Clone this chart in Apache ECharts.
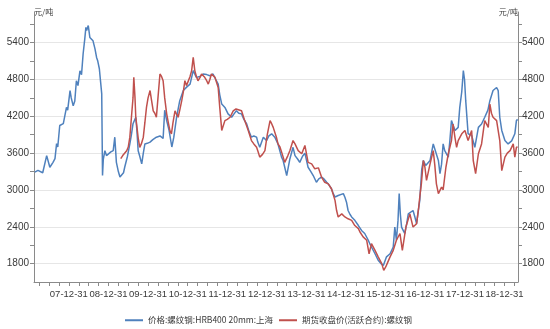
<!DOCTYPE html>
<html>
<head>
<meta charset="utf-8">
<script src="https://cdn.jsdelivr.net/npm/echarts@6/dist/echarts.min.js"></script>
<style>
  html, body { margin: 0; padding: 0; background: #ffffff; }
  #chart { width: 550px; height: 329px; }
</style>
</head>
<body>
<div id="chart"></div>
<script>
// Series names shown in the legend
const spotName = '价格:螺纹钢:HRB400 20mm:上海';
const futName = '期货收盘价(活跃合约):螺纹钢';
const unitName = '元/吨';

// Year-end tick positions (decimal years) and their labels
const yearEnds = [2008, 2009, 2010, 2011, 2012, 2013, 2014, 2015, 2016, 2017, 2018, 2019];
const xTickLabels = ['07-12-31', '08-12-31', '09-12-31', '10-12-31', '11-12-31', '12-12-31',
                     '13-12-31', '14-12-31', '15-12-31', '16-12-31', '17-12-31', '18-12-31'];

// Price axis labels
const yTickLabels = [1800, 2400, 3000, 3600, 4200, 4800, 5400];

// Spot price, Shanghai HRB400 20mm rebar (time in decimal years, price in yuan/ton)
const spotTime = [
  2007.14, 2007.22, 2007.27, 2007.34, 2007.44, 2007.52, 2007.60, 2007.65, 2007.69, 2007.72,
  2007.77, 2007.86, 2007.90, 2007.94, 2007.97, 2008.03, 2008.06, 2008.11, 2008.15, 2008.19,
  2008.23, 2008.28, 2008.32, 2008.36, 2008.40, 2008.43, 2008.45, 2008.49, 2008.53, 2008.57,
  2008.61, 2008.66, 2008.70, 2008.73, 2008.77, 2008.83, 2008.85, 2008.87, 2008.91, 2008.95,
  2008.99, 2009.06, 2009.12, 2009.16, 2009.20, 2009.25, 2009.29, 2009.33, 2009.38, 2009.41,
  2009.48, 2009.54, 2009.58, 2009.62, 2009.69, 2009.72, 2009.75, 2009.79, 2009.84, 2009.88,
  2009.92, 2009.98, 2010.05, 2010.12, 2010.21, 2010.30, 2010.38, 2010.42, 2010.47, 2010.53,
  2010.60, 2010.65, 2010.72, 2010.80, 2010.89, 2010.98, 2011.06, 2011.14, 2011.22, 2011.31,
  2011.39, 2011.48, 2011.56, 2011.64, 2011.71, 2011.77, 2011.81, 2011.86, 2011.94, 2012.02,
  2012.11, 2012.17, 2012.23, 2012.29, 2012.36, 2012.42, 2012.49, 2012.55, 2012.61, 2012.67,
  2012.74, 2012.77, 2012.82, 2012.91, 2012.99, 2013.05, 2013.12, 2013.20, 2013.28, 2013.37,
  2013.41, 2013.50, 2013.58, 2013.66, 2013.71, 2013.78, 2013.83, 2013.90, 2013.96, 2014.04,
  2014.11, 2014.17, 2014.25, 2014.31, 2014.38, 2014.44, 2014.51, 2014.57, 2014.63, 2014.67,
  2014.72, 2014.80, 2014.84, 2014.93, 2014.97, 2015.01, 2015.05, 2015.10, 2015.14, 2015.22,
  2015.31, 2015.39, 2015.47, 2015.56, 2015.60, 2015.64, 2015.73, 2015.81, 2015.88, 2015.94,
  2015.98, 2016.02, 2016.11, 2016.19, 2016.23, 2016.27, 2016.31, 2016.34, 2016.37, 2016.40,
  2016.45, 2016.48, 2016.53, 2016.57, 2016.62, 2016.69, 2016.74, 2016.78, 2016.82, 2016.86,
  2016.91, 2016.95, 2017.01, 2017.12, 2017.20, 2017.24, 2017.33, 2017.37, 2017.41, 2017.45,
  2017.49, 2017.58, 2017.62, 2017.66, 2017.70, 2017.75, 2017.83, 2017.87, 2017.92, 2017.96,
  2017.99, 2018.02, 2018.08, 2018.17, 2018.25, 2018.34, 2018.42, 2018.50, 2018.58, 2018.63,
  2018.71, 2018.76, 2018.80, 2018.84, 2018.88, 2018.93, 2019.01, 2019.09, 2019.18, 2019.26,
  2019.30, 2019.33
];
const spotPrice = [
  3290, 3320, 3350, 3280, 3560, 3370, 3450, 3510, 3755, 3700,
  4050, 4080, 4050, 4345, 4300, 4620, 4500, 4370, 4450, 4780,
  4700, 4940, 4880, 5215, 5450, 5650, 5600, 5680, 5485, 5500,
  5430, 5300, 5160, 5100, 4975, 4565, 3235, 3500, 3640, 3560,
  3590, 3620, 3640, 3860, 3450, 3300, 3210, 3190, 3280, 3370,
  3550, 3750, 3900, 4080, 4185, 3950, 3640, 3550, 3425, 3600,
  3750, 3760, 3780, 3820, 3860, 3880, 3840, 4300, 4130, 3970,
  3700, 3860, 4185, 4455, 4620, 4680, 4725, 4945, 4835, 4850,
  4890, 4880, 4860, 4890, 4800, 4725, 4550, 4400, 4345, 4240,
  4185, 4240, 4290, 4250, 4240, 4150, 4075, 3950, 3860, 3880,
  3860, 3780, 3695, 3860, 3805, 3880, 3915, 3860, 3750, 3535,
  3480, 3235, 3505, 3695, 3560, 3500, 3450, 3550, 3600, 3370,
  3300, 3235, 3125, 3180, 3210, 3180, 3125, 3080, 3020, 2950,
  2885, 2910, 2885, 2940, 2880, 2800, 2665, 2600, 2560, 2505,
  2420, 2340, 2290, 2180, 2120, 2070, 1960, 1855, 1800, 1770,
  1800, 1910, 1960, 2070, 2395, 2180, 2500, 2940, 2600, 2395,
  2330, 2290, 2450, 2610, 2640, 2665, 2550, 2450, 2650, 2830,
  3335, 3480, 3400, 3480, 3750, 3780, 3480, 3265, 3420, 3750,
  3640, 3535, 3805, 4130, 4100, 3970, 4020, 4345, 4600, 4945,
  4800, 4455, 3915, 3890, 3695, 4020, 4075, 4185, 4300, 4455,
  4620, 4600, 4670, 4620, 4185, 3970, 3805, 3750, 3800, 3915,
  4130, 4150
];

// Rebar futures, active contract close (time in decimal years, price in yuan/ton)
const futTime = [
  2009.31, 2009.36, 2009.46, 2009.50, 2009.54, 2009.58, 2009.62, 2009.64, 2009.67, 2009.69,
  2009.72, 2009.75, 2009.79, 2009.83, 2009.88, 2009.92, 2009.96, 2010.00, 2010.05, 2010.09,
  2010.13, 2010.17, 2010.21, 2010.25, 2010.30, 2010.34, 2010.38, 2010.42, 2010.47, 2010.51,
  2010.55, 2010.59, 2010.63, 2010.68, 2010.72, 2010.76, 2010.80, 2010.85, 2010.89, 2010.93,
  2010.97, 2011.01, 2011.06, 2011.10, 2011.14, 2011.18, 2011.22, 2011.26, 2011.31, 2011.35,
  2011.39, 2011.43, 2011.48, 2011.52, 2011.56, 2011.60, 2011.64, 2011.69, 2011.73, 2011.77,
  2011.81, 2011.86, 2011.90, 2011.94, 2012.00, 2012.07, 2012.15, 2012.22, 2012.27, 2012.36,
  2012.44, 2012.53, 2012.61, 2012.67, 2012.74, 2012.78, 2012.82, 2012.89, 2012.95, 2013.01,
  2013.08, 2013.12, 2013.16, 2013.24, 2013.28, 2013.33, 2013.38, 2013.45, 2013.53, 2013.58,
  2013.66, 2013.71, 2013.79, 2013.88, 2013.96, 2014.04, 2014.13, 2014.21, 2014.30, 2014.38,
  2014.46, 2014.55, 2014.63, 2014.72, 2014.76, 2014.80, 2014.89, 2014.97, 2015.05, 2015.14,
  2015.22, 2015.31, 2015.35, 2015.43, 2015.52, 2015.58, 2015.64, 2015.73, 2015.81, 2015.90,
  2015.95, 2016.00, 2016.05, 2016.11, 2016.19, 2016.27, 2016.36, 2016.42, 2016.51, 2016.61,
  2016.69, 2016.78, 2016.83, 2016.86, 2016.90, 2016.95, 2016.99, 2017.03, 2017.12, 2017.20,
  2017.24, 2017.28, 2017.33, 2017.41, 2017.45, 2017.52, 2017.58, 2017.66, 2017.70, 2017.75,
  2017.79, 2017.83, 2017.92, 2018.00, 2018.08, 2018.17, 2018.21, 2018.27, 2018.34, 2018.42,
  2018.50, 2018.59, 2018.63, 2018.67, 2018.71, 2018.80, 2018.88, 2018.93, 2019.01, 2019.07,
  2019.14, 2019.22, 2019.26, 2019.30, 2019.33
];
const futPrice = [
  3510, 3560, 3640, 3700, 3860, 4185, 4500, 4835, 4500, 4185,
  4020, 3850, 3695, 3750, 3860, 4100, 4345, 4500, 4620, 4450,
  4290, 4250, 4185, 4500, 4890, 4850, 4780, 4500, 4240, 4100,
  3970, 3915, 4100, 4290, 4230, 4185, 4300, 4455, 4600, 4780,
  4700, 4725, 4850, 4945, 5160, 4945, 4850, 4780, 4830, 4890,
  4860, 4835, 4780, 4725, 4800, 4890, 4860, 4835, 4750, 4670,
  4345, 3970, 4050, 4130, 4150, 4185, 4290, 4320, 4345, 4290,
  4130, 3970, 3805, 3750, 3695, 3620, 3535, 3580, 3640, 3900,
  4130, 4080, 4020, 3860, 3750, 3700, 3600, 3450, 3560, 3640,
  3805, 3750, 3640, 3590, 3725, 3450, 3425, 3345, 3360, 3210,
  3125, 3100, 3020, 2830, 2665, 2560, 2610, 2560, 2530, 2505,
  2420, 2370, 2315, 2235, 2180, 1960, 2125, 2015, 1910, 1800,
  1690, 1745, 1820, 1910, 2015, 2180, 2290, 2015, 2395, 2610,
  2395, 2450, 2700, 2885, 3100, 3480, 3370, 3155, 3425, 3640,
  3400, 3100, 2940, 3045, 3000, 3370, 3590, 3805, 4075, 3850,
  3695, 3805, 3915, 3970, 3805, 3970, 3480, 3265, 3590, 3750,
  4130, 4020, 4400, 4250, 4185, 4130, 3805, 3315, 3535, 3600,
  3640, 3750, 3535, 3695, 3700
];

const pair = (ts, vs) => ts.map((t, i) => [t, vs[i]]);

// Quarterly tick marks along the time axis, half-step ticks on the price axis
const quarterTicks = [];
for (let q = 2007.25; q <= 2019.3; q += 0.25) quarterTicks.push(+q.toFixed(2));
const priceTicks = [];
for (let v = 1800; v <= 5700; v += 300) priceTicks.push(v);

const axisGray = '#8a8a8a';
const labelColor = '#3a3a3a';
const labelFont = 'Liberation Sans, Arial, sans-serif';

function priceAxis(side) {
  return {
    type: 'value',
    position: side,
    min: 1500,
    max: 5900,
    name: unitName,
    nameLocation: 'end',
    nameGap: 0,
    nameTextStyle: {
      align: side === 'left' ? 'left' : 'right',
      verticalAlign: 'middle',
      fontSize: 8,
      color: labelColor,
      fontFamily: 'Noto Sans CJK SC'
    },
    axisLine: { show: true, lineStyle: { color: axisGray, width: 1 } },
    axisTick: { show: true, customValues: priceTicks, length: 4, lineStyle: { color: axisGray } },
    axisLabel: {
      customValues: yTickLabels,
      formatter: v => String(v),
      color: labelColor,
      fontSize: 10,
      fontFamily: labelFont,
      margin: side === 'left' ? 5 : 4
    },
    splitLine: { show: false }
  };
}

const chart = echarts.init(document.getElementById('chart'), null, { renderer: 'canvas' });

chart.setOption({
  animation: false,
  backgroundColor: '#ffffff',
  grid: { left: 34, right: 32, top: 12, bottom: 47 },
  legend: {
    left: 120,
    top: 311,
    icon: 'rect',
    itemWidth: 18,
    itemHeight: 2,
    itemGap: 6,
    textStyle: { fontSize: 8.5, color: labelColor, fontFamily: 'Noto Sans CJK SC' },
    data: [spotName, futName]
  },
  xAxis: {
    type: 'value',
    min: 2007.12,
    max: 2019.34,
    axisLine: { show: true, lineStyle: { color: axisGray, width: 1 } },
    axisTick: { show: true, customValues: quarterTicks, length: 4, lineStyle: { color: axisGray } },
    axisLabel: {
      customValues: yearEnds,
      formatter: v => xTickLabels[yearEnds.indexOf(Math.round(v))],
      showMinLabel: true,
      showMaxLabel: true,
      hideOverlap: false,
      color: labelColor,
      fontSize: 9.5,
      fontFamily: labelFont,
      margin: 7
    },
    splitLine: { show: false }
  },
  yAxis: [
    priceAxis('left'),
    priceAxis('right'),
    {
      // grid lines only, at the labelled prices
      type: 'value',
      position: 'left',
      min: 1500,
      max: 5900,
      axisLine: { show: false },
      axisTick: { show: false, customValues: yTickLabels },
      axisLabel: { show: false },
      splitLine: { show: true, lineStyle: { color: '#e6e6e6', width: 1 } }
    }
  ],
  series: [
    {
      name: spotName,
      type: 'line',
      yAxisIndex: 0,
      data: pair(spotTime, spotPrice),
      showSymbol: false,
      symbol: 'none',
      lineStyle: { color: '#4f81bd', width: 1.5 },
      itemStyle: { color: '#4f81bd' }
    },
    {
      name: futName,
      type: 'line',
      yAxisIndex: 0,
      data: pair(futTime, futPrice),
      showSymbol: false,
      symbol: 'none',
      lineStyle: { color: '#c0504d', width: 1.5 },
      itemStyle: { color: '#c0504d' }
    }
  ]
});
</script>
</body>
</html>
